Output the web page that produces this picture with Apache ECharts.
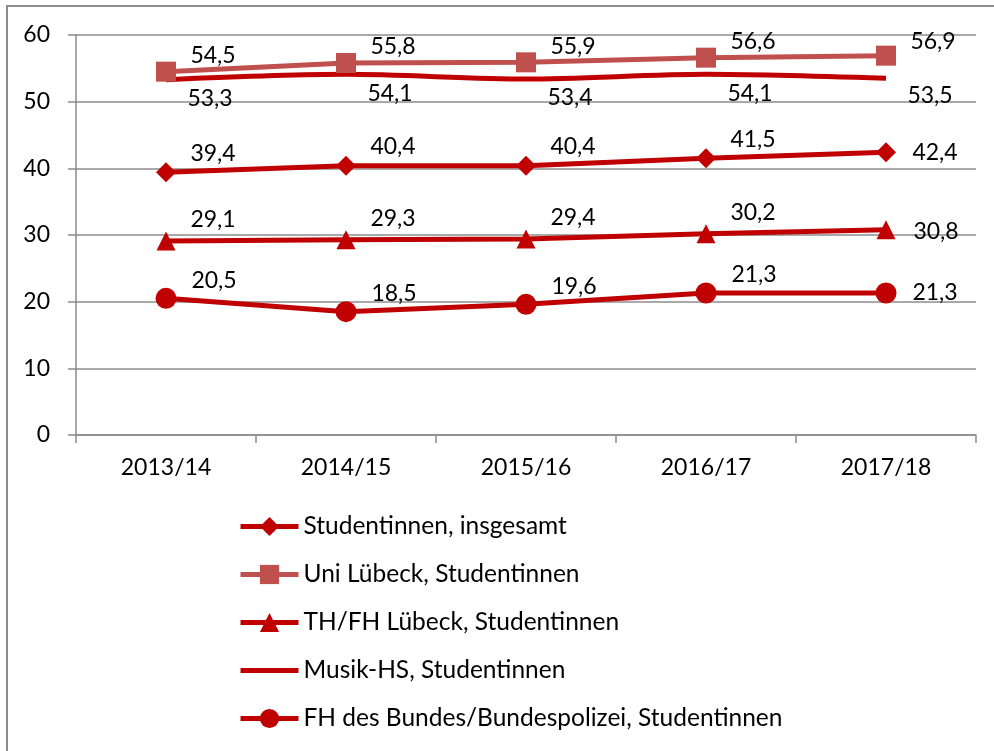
<!DOCTYPE html>
<html>
<head>
<meta charset="utf-8">
<script src="https://cdn.jsdelivr.net/npm/echarts@6/dist/echarts.min.js"></script>
<style>
  html, body { margin: 0; padding: 0; background: #fff; }
  #chart { width: 994px; height: 751px; }
</style>
</head>
<body>
<div id="chart"></div>
<script>
// Anteil der Studentinnen (in %) nach Hochschule, Wintersemester
const categories = ['2013/14', '2014/15', '2015/16', '2016/17', '2017/18'];

const seriesNames = [
  'Studentinnen, insgesamt',
  'Uni Lübeck, Studentinnen',
  'TH/FH Lübeck, Studentinnen',
  'Musik-HS, Studentinnen',
  'FH des Bundes/Bundespolizei, Studentinnen'
];

const studentinnenInsgesamt = [39.4, 40.4, 40.4, 41.5, 42.4];
const uniLuebeck = [54.5, 55.8, 55.9, 56.6, 56.9];
const thFhLuebeck = [29.1, 29.3, 29.4, 30.2, 30.8];
const musikHs = [53.3, 54.1, 53.4, 54.1, 53.5];
const fhBund = [20.5, 18.5, 19.6, 21.3, 21.3];

const yTicks = [0, 10, 20, 30, 40, 50, 60];

const FONT = 'Lato, "Open Sans", sans-serif';
const RED = '#C00000';
const ROSE = '#C0504D';
const GRID = '#8c8c8c';

function fmt(v) {
  return v.toFixed(1).replace('.', ',');
}

// Build one line series; the final point gets its own label offset.
function makeSeries(name, values, color, symbol, symbolSize, offset, lastOffset, smooth) {
  return {
    name: name,
    type: 'line',
    smooth: smooth || false,
    symbol: symbol,
    symbolSize: symbolSize,
    lineStyle: { color: color, width: 5 },
    itemStyle: { color: color },
    label: {
      show: true,
      position: 'inside',
      offset: offset,
      formatter: p => fmt(p.value),
      color: '#000',
      opacity: 1,
      fontFamily: FONT,
      fontSize: 23
    },
    data: values.map((v, i) => i === values.length - 1
      ? { value: v, label: { offset: lastOffset } }
      : v),
    emphasis: { disabled: true },
    animation: false
  };
}

const chart = echarts.init(document.getElementById('chart'), null, { renderer: 'canvas' });

chart.setOption({
  backgroundColor: '#fff',
  animation: false,
  graphic: [{
    type: 'rect',
    shape: { x: 7, y: 6, width: 1200, height: 1000 },
    style: { fill: 'none', stroke: GRID, lineWidth: 2 },
    silent: true,
    z: -1
  }],
  grid: { left: 76, right: 18, top: 35, bottom: 316, containLabel: false },
  xAxis: {
    type: 'category',
    data: categories,
    boundaryGap: true,
    axisLine: { lineStyle: { color: GRID, width: 1.5 } },
    axisTick: { show: true, length: 8, alignWithLabel: false, lineStyle: { color: GRID, width: 1.5 } },
    axisLabel: { color: '#000', fontFamily: FONT, fontSize: 23, margin: 21 },
    splitLine: { show: false }
  },
  yAxis: {
    type: 'value',
    min: yTicks[0],
    max: yTicks[yTicks.length - 1],
    interval: 10,
    axisLine: { show: true, lineStyle: { color: GRID, width: 1.5 } },
    axisTick: { show: true, length: 8, lineStyle: { color: GRID, width: 1.5 } },
    axisLabel: { color: '#000', fontFamily: FONT, fontSize: 23, margin: 26 },
    splitLine: { show: true, lineStyle: { color: GRID, width: 1.5 } }
  },
  legend: {
    orient: 'vertical',
    left: 233,
    top: 509,
    itemWidth: 58,
    itemHeight: 24,
    itemGap: 23,
    lineStyle: { width: 5 },
    textStyle: { color: '#000', fontFamily: FONT, fontSize: 24.5 },
    data: seriesNames.map(n => n === seriesNames[3]
      ? { name: n, itemStyle: { opacity: 0 } }
      : n)
  },
  series: [
    makeSeries(seriesNames[1], uniLuebeck, ROSE, 'rect', 20, [47, -16], [47, -14]),
    makeSeries(seriesNames[3], musikHs, RED, 'circle', 0, [44, 19], [44, 17], 0.3),
    makeSeries(seriesNames[0], studentinnenInsgesamt, RED, 'diamond', 20, [47, -19], [49, 0]),
    makeSeries(seriesNames[2], thFhLuebeck, RED, 'triangle', 19, [47, -21], [50, 2]),
    makeSeries(seriesNames[4], fhBund, RED, 'circle', 21, [48, -18], [49, 0])
  ]
});
</script>
</body>
</html>
